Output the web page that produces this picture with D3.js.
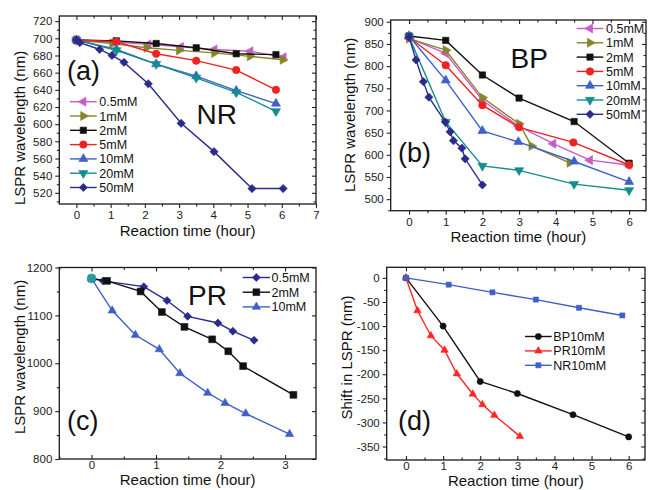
<!DOCTYPE html>
<html>
<head>
<meta charset="utf-8">
<script src="https://cdn.jsdelivr.net/npm/d3@7"></script>
<style>
  body { margin: 0; background: #fff; }
  svg { display: block; font-family: "Liberation Sans", Arial, sans-serif; }
</style>
</head>
<body>
<svg id="chart" width="648" height="490"></svg>
<script>
// ---- data: [time (hour), value] ----
// (a) NR
const nr05 = [[0,698],[1.05,696],[2.1,693],[3.05,690],[4.03,687],[5.08,685],[6.05,678]];
const nr1  = [[0,698],[1.05,694],[2.05,689],[3.0,686],[4.03,683],[5.07,679],[6.03,675]];
const nr2  = [[0,698],[1.17,697],[2.33,694],[3.5,689],[4.67,682],[5.83,681]];
const nr5  = [[0,698],[1.17,696],[2.33,682],[3.5,674],[4.67,663],[5.83,640]];
const nr10 = [[0,698],[1.17,687],[2.33,670],[3.5,656],[4.67,639],[5.83,624]];
const nr20 = [[0,698],[1.17,686],[2.33,670],[3.5,654],[4.67,637],[5.83,615]];
const nr50 = [[0,698],[0.1,695],[0.68,687],[1.04,680],[1.39,672],[2.1,647],[3.06,601],[4.02,568],[5.13,525],[6.04,525]];

// (b) BP
const bp05 = [[0,863],[1,829],[2,723],[2.98,665],[3.93,625],[4.93,588],[5.98,577]];
const bp1  = [[0,862],[1,836],[2,729],[3,670],[3.34,620],[4.38,582]];
const bp2  = [[0,868],[1,858],[2,780],[3,728],[4.5,675],[6,581]];
const bp5  = [[0,865],[1,802],[2,712],[3,662],[4.48,628],[6,577]];
const bp10 = [[0,868],[1,768],[2,654],[2.98,629],[4.5,585],[6,539]];
const bp20 = [[0,866],[1,674],[2,575],[3,565],[4.5,534],[6,520]];
const bp50 = [[0,866],[0.19,814],[0.39,765],[0.54,730],[0.99,674],[1.12,652],[1.21,632],[1.44,615],[1.53,591],[2.0,532]];

// (c) PR
const pr05 = [[0,1177],[0.18,1172],[0.81,1160],[1.17,1131],[1.49,1098],[1.96,1084],[2.19,1067],[2.52,1048]];
const pr2  = [[0,1177],[0.24,1172],[0.76,1150],[1.09,1107],[1.44,1076],[1.87,1050],[2.12,1025],[2.35,994],[3.13,934]];
const pr10 = [[0,1177],[0.32,1110],[0.68,1059],[1.05,1029],[1.37,979],[1.8,938],[2.07,917],[2.39,895],[3.07,852]];
const prOrigin = [[0,1177]];

// (d) shift in LSPR, 10mM
const shBP = [[0,0],[1,-100],[2,-215],[3,-240],[4.5,-284],[6,-330]];
const shPR = [[0,0],[0.31,-68],[0.67,-120],[1.04,-150],[1.37,-199],[1.8,-241],[2.06,-263],[2.38,-285],[3.07,-329]];
const shNR = [[0,0],[1.15,-14],[2.33,-30],[3.5,-45],[4.66,-62],[5.83,-78]];

const concLabels = ["0.5mM","1mM","2mM","5mM","10mM","20mM","50mM"];
const prLabels = ["0.5mM","2mM","10mM"];
const shiftLabels = ["BP10mM","PR10mM","NR10mM"];

const C = {
  pink: "#c85cc8", olive: "#85852a", black: "#111", red: "#ee2222",
  blue: "#3f60c6", teal: "#138d8d", navy: "#2b2b8c", red2: "#ff2626"
};

const svg = d3.select("#chart");

function symbolPath(shape, size) {
  const type = { square: d3.symbolSquare, circle: d3.symbolCircle, diamond: d3.symbolSquare }[shape] || d3.symbolTriangle;
  return d3.symbol(type, size)();
}
const rot = { down: 180, left: -90, right: 90, diamond: 45 };

function marker(g, x, y, s) {
  g.append("path")
    .attr("d", symbolPath(s.shape, s.size))
    .attr("transform", `translate(${x},${y}) rotate(${rot[s.shape] || 0})`)
    .attr("fill", s.color)
    .attr("stroke", s.color)
    .attr("stroke-width", 0.6);
}

function drawPanel(p) {
  const b = p.box;
  const g = svg.append("g");
  const x = d3.scaleLinear().domain(p.xDomain).range([b.l, b.r]);
  const y = d3.scaleLinear().domain(p.yDomain).range([b.b, b.t]);
  const fmt = d => String(d);
  // bottom ticks point out in (a)/(b), in for (c)/(d)
  const bt = p.xTickIn ? -4 : 4, bm = p.xTickIn ? -2.5 : 2.5;

  const axisSets = [
    [d3.axisBottom(x).tickValues(p.xTicks).tickSize(bt).tickPadding(p.xPad).tickFormat(fmt), `translate(0,${b.b})`],
    [d3.axisBottom(x).tickValues(p.xMinor).tickSize(bm).tickFormat(""), `translate(0,${b.b})`],
    [d3.axisTop(x).tickValues(p.xTicks).tickSize(-4).tickFormat(""), `translate(0,${b.t})`],
    [d3.axisTop(x).tickValues(p.xMinor).tickSize(-2.5).tickFormat(""), `translate(0,${b.t})`],
    [d3.axisLeft(y).tickValues(p.yTicks).tickSize(4).tickPadding(3).tickFormat(fmt), `translate(${b.l},0)`],
    [d3.axisLeft(y).tickValues(p.yMinor).tickSize(2.5).tickFormat(""), `translate(${b.l},0)`],
    [d3.axisRight(y).tickValues(p.yTicks).tickSize(-4).tickFormat(""), `translate(${b.r},0)`],
    [d3.axisRight(y).tickValues(p.yMinor).tickSize(-2.5).tickFormat(""), `translate(${b.r},0)`]
  ];
  axisSets.forEach(([ax, tr]) => {
    const a = g.append("g").attr("transform", tr).call(ax);
    a.select(".domain").remove();
    a.selectAll("line").attr("stroke", "#222").attr("stroke-width", 1.1);
    a.selectAll("text").attr("font-size", 11.5).attr("fill", "#222")
      .attr("font-family", "Liberation Sans, Arial, sans-serif");
  });

  g.append("rect")
    .attr("x", b.l).attr("y", b.t)
    .attr("width", b.r - b.l).attr("height", b.b - b.t)
    .attr("fill", "none").attr("stroke", "#1a1a1a").attr("stroke-width", 1.3);

  // series
  const line = d3.line().x(d => x(d[0])).y(d => y(d[1]));
  p.series.forEach(s => {
    if (!s.noLine) {
      g.append("path").datum(s.data).attr("d", line)
        .attr("fill", "none").attr("stroke", s.color).attr("stroke-width", 1.4);
    }
    s.data.forEach(d => marker(g, x(d[0]), y(d[1]), s));
  });

  // legend
  const L = p.legend;
  p.series.filter(s => s.label).forEach((s, i) => {
    const ly = L.y0 + i * L.dy;
    g.append("line").attr("x1", L.x0).attr("x2", L.x1).attr("y1", ly).attr("y2", ly)
      .attr("stroke", s.color).attr("stroke-width", 1.4);
    marker(g, (L.x0 + L.x1) / 2, ly, s);
    g.append("text").attr("x", L.tx).attr("y", ly).attr("dy", "0.36em")
      .attr("font-size", 12.5).attr("fill", "#111").text(s.label);
  });

  // titles
  g.append("text").attr("x", (b.l + b.r) / 2).attr("y", p.xTitleY)
    .attr("text-anchor", "middle").attr("font-size", 15).attr("fill", "#111")
    .text("Reaction time (hour)");
  g.append("text")
    .attr("transform", `translate(${p.yTitle.x},${p.yTitle.cy}) rotate(-90)`)
    .attr("text-anchor", "middle").attr("font-size", 15).attr("fill", "#111")
    .text(p.yTitle.text);
  g.append("text").attr("x", p.tag.x).attr("y", p.tag.y)
    .attr("font-size", 27).attr("fill", "#111").text(p.tag.text);
  if (p.name) {
    g.append("text").attr("x", p.name.x).attr("y", p.name.y)
      .attr("font-size", 28).attr("fill", "#111").text(p.name.text);
  }
}

const tri = 36, sq = 40, circ = 44, dia = 34;
const concStyle = [
  { color: C.pink, shape: "left", size: tri },
  { color: C.olive, shape: "right", size: tri },
  { color: C.black, shape: "square", size: sq },
  { color: C.red, shape: "circle", size: circ },
  { color: C.blue, shape: "up", size: tri },
  { color: C.teal, shape: "down", size: tri },
  { color: C.navy, shape: "diamond", size: dia }
];

drawPanel({
  box: { l: 59.3, r: 316, t: 16, b: 204 },
  xDomain: [-0.5, 7], yDomain: [507, 726], xPad: 3,
  xTicks: d3.range(0, 8), xMinor: d3.range(0.5, 7, 1),
  yTicks: d3.range(520, 721, 20), yMinor: d3.range(510, 726, 20),
  series: [nr05, nr1, nr2, nr5, nr10, nr20, nr50].map((data, i) => ({ data, label: concLabels[i], ...concStyle[i] })),
  legend: { x0: 70, x1: 96.7, tx: 99.3, y0: 101.7, dy: 14.3 },
  xTitleY: 235.5, yTitle: { x: 25, cy: 128, text: "LSPR wavelength (nm)" },
  tag: { text: "(a)", x: 67, y: 80 }, name: { text: "NR", x: 196.5, y: 124 }
});

drawPanel({
  box: { l: 390.7, r: 646, t: 20, b: 210.7 },
  xDomain: [-0.5, 6.46], yDomain: [474, 904], xPad: 3,
  xTicks: d3.range(0, 7), xMinor: d3.range(0.5, 6.4, 1),
  yTicks: d3.range(500, 901, 50), yMinor: d3.range(475, 901, 50),
  series: [bp05, bp1, bp2, bp5, bp10, bp20, bp50].map((data, i) => ({ data, label: concLabels[i], ...concStyle[i] })),
  legend: { x0: 576.7, x1: 603.3, tx: 606, y0: 28.5, dy: 14.3 },
  xTitleY: 242, yTitle: { x: 355, cy: 115, text: "LSPR wavelength (nm)" },
  tag: { text: "(b)", x: 398, y: 161.7 }, name: { text: "BP", x: 510.5, y: 67.5 }
});

drawPanel({
  box: { l: 59.3, r: 316, t: 267.5, b: 459 },
  xDomain: [-0.5, 3.48], yDomain: [800, 1200], xTickIn: true, xPad: 2,
  xTicks: d3.range(0, 4), xMinor: d3.range(-0.5, 3.5, 1),
  yTicks: d3.range(800, 1201, 100), yMinor: d3.range(850, 1200, 100),
  series: [
    { data: pr05, label: prLabels[0], color: C.navy, shape: "diamond", size: 32 },
    { data: pr2, label: prLabels[1], color: C.black, shape: "square", size: 46 },
    { data: pr10, label: prLabels[2], color: C.blue, shape: "up", size: 30 },
    { data: prOrigin, color: "#2a9c9c", shape: "circle", size: 60, noLine: true }
  ],
  legend: { x0: 242.7, x1: 270, tx: 271.5, y0: 277.5, dy: 14.7 },
  xTitleY: 485, yTitle: { x: 25, cy: 357, text: "LSPR wavelength (nm)" },
  tag: { text: "(c)", x: 67, y: 430 }, name: { text: "PR", x: 188, y: 304.5 }
});

drawPanel({
  box: { l: 386.7, r: 645, t: 267.3, b: 460 },
  xDomain: [-0.52, 6.44], yDomain: [-378, 22], xTickIn: true, xPad: 2,
  xTicks: d3.range(0, 7), xMinor: d3.range(0.5, 6.4, 1),
  yTicks: d3.range(-350, 1, 50), yMinor: d3.range(-375, 22, 50),
  series: [
    { data: shBP, label: shiftLabels[0], color: C.black, shape: "circle", size: 30 },
    { data: shPR, label: shiftLabels[1], color: C.red2, shape: "up", size: 24 },
    { data: shNR, label: shiftLabels[2], color: C.blue, shape: "square", size: 26 }
  ],
  legend: { x0: 525, x1: 551.7, tx: 553.3, y0: 336.5, dy: 14.4 },
  xTitleY: 485.5, yTitle: { x: 352, cy: 357.5, text: "Shift in LSPR (nm)" },
  tag: { text: "(d)", x: 398, y: 430 }
});
</script>
</body>
</html>
